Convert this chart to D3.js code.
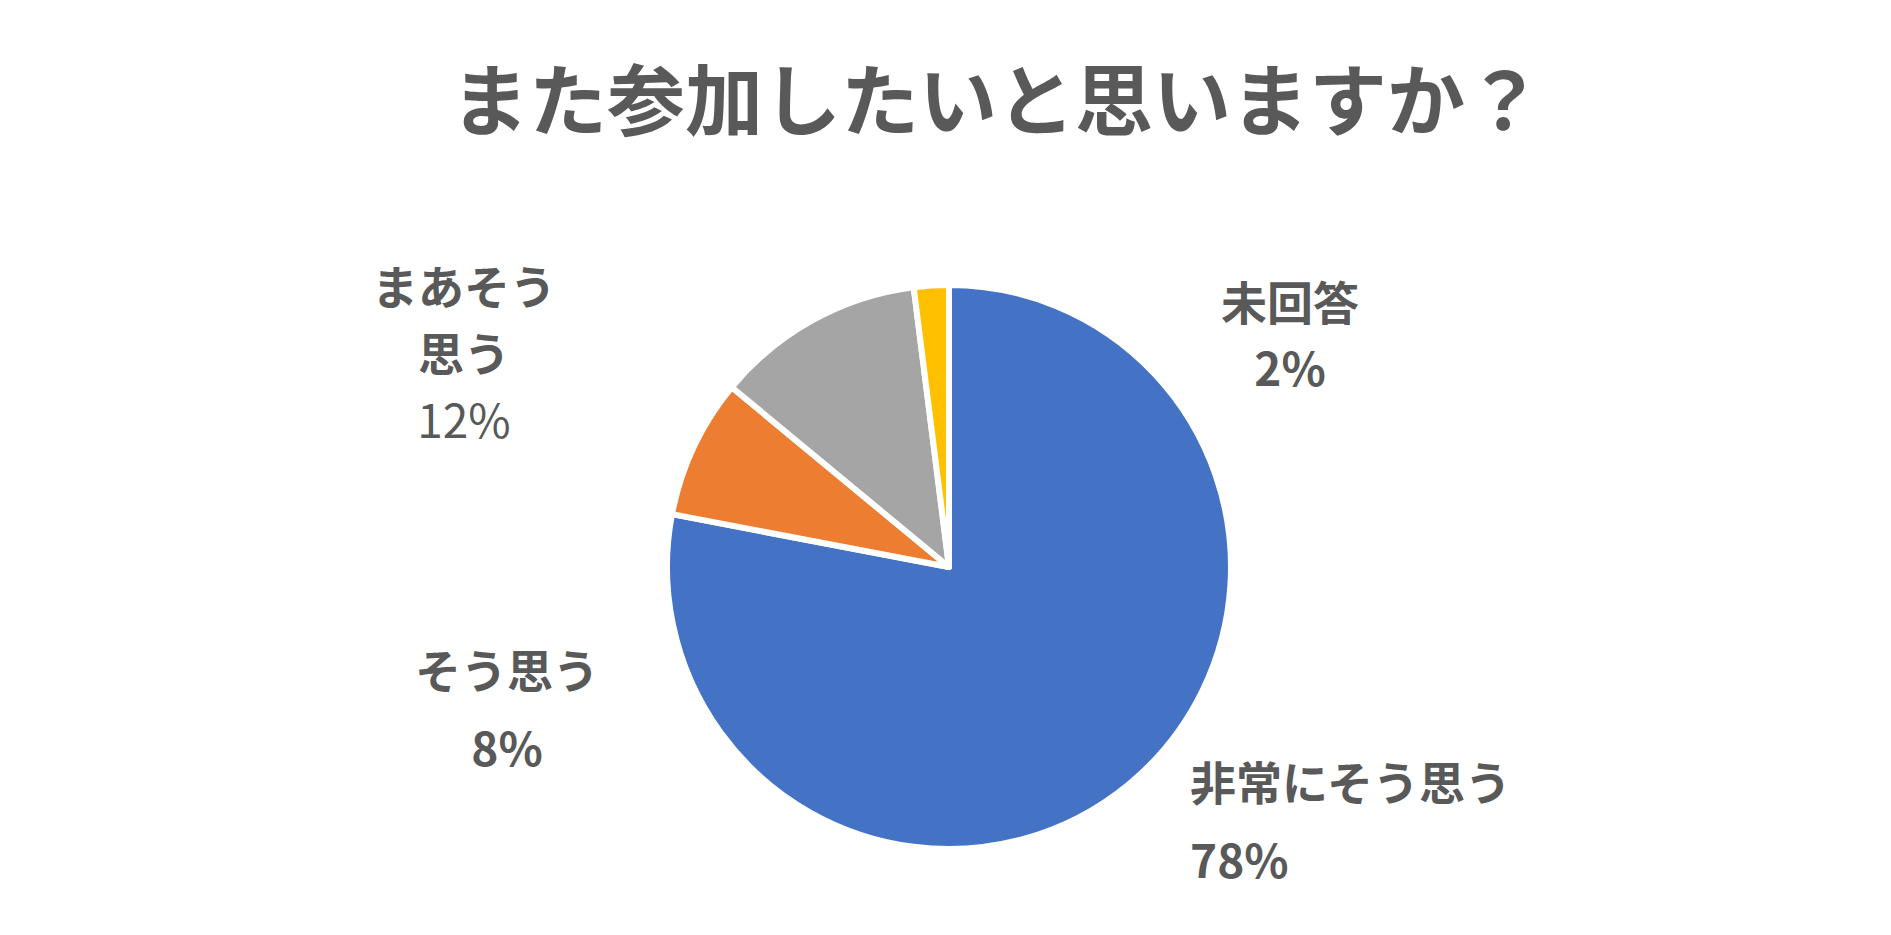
<!DOCTYPE html>
<html>
<head>
<meta charset="utf-8">
<script src="https://cdn.jsdelivr.net/npm/d3@7"></script>
<style>
  body { margin: 0; background: #fff; }
  text { font-family: "Noto Sans CJK JP", "Noto Sans", sans-serif; fill: #595959; }
</style>
</head>
<body>
<div id="chart"></div>
<script>
// Pie chart data
var categories = ["非常にそう思う", "そう思う", "まあそう思う", "未回答"];
var values = [78, 8, 12, 2];
var colors = ["#4472C4", "#ED7D31", "#A5A5A5", "#FFC000"];

// label lines for each slice (text broken as in the picture)
var labelLines = [
    ["非常にそう思う", "78%"],
    ["そう思う", "8%"],
    ["まあそう", "思う", "12%"],
    ["未回答", "2%"]
];

var width = 1891;
var height = 935;
var cx = 949;
var cy = 567;
var radius = 282;

var svg = d3.select("#chart")
    .append("svg")
    .attr("width", width)
    .attr("height", height);

// Title
svg.append("text")
    .attr("x", 997)
    .attr("y", 130)
    .attr("text-anchor", "middle")
    .attr("font-size", 78)
    .attr("font-weight", "bold")
    .text("また参加したいと思いますか？");

var pie = d3.pie().sort(null).value(function(d) { return d; });
var arc = d3.arc().innerRadius(0).outerRadius(radius);

var g = svg.append("g").attr("transform", "translate(" + cx + "," + cy + ")");

g.selectAll("path")
    .data(pie(values))
    .enter()
    .append("path")
    .attr("d", arc)
    .attr("fill", function(d, i) { return colors[i]; })
    .attr("stroke", "#fff")
    .attr("stroke-width", 6)
    .attr("stroke-linejoin", "round");

// Label placement: anchor point, alignment, line spacing
var labelPos = [
    { x: 1190, y: 800, anchor: "start", step: 78 },
    { x: 507, y: 688, anchor: "middle", step: 78 },
    { x: 464, y: 304, anchor: "middle", step: 67 },
    { x: 1290, y: 320, anchor: "middle", step: 66 }
];

labelLines.forEach(function(lines, i) {
    var p = labelPos[i];
    var t = svg.append("text")
        .attr("text-anchor", p.anchor)
        .attr("font-size", 46)
        .attr("font-weight", "bold");
    lines.forEach(function(line, j) {
        t.append("tspan")
            .attr("x", p.x)
            .attr("y", p.y + j * p.step)
            .attr("font-weight", (i === 2 && j === 2) ? "normal" : "bold")
            .text(line);
    });
});
</script>
</body>
</html>
